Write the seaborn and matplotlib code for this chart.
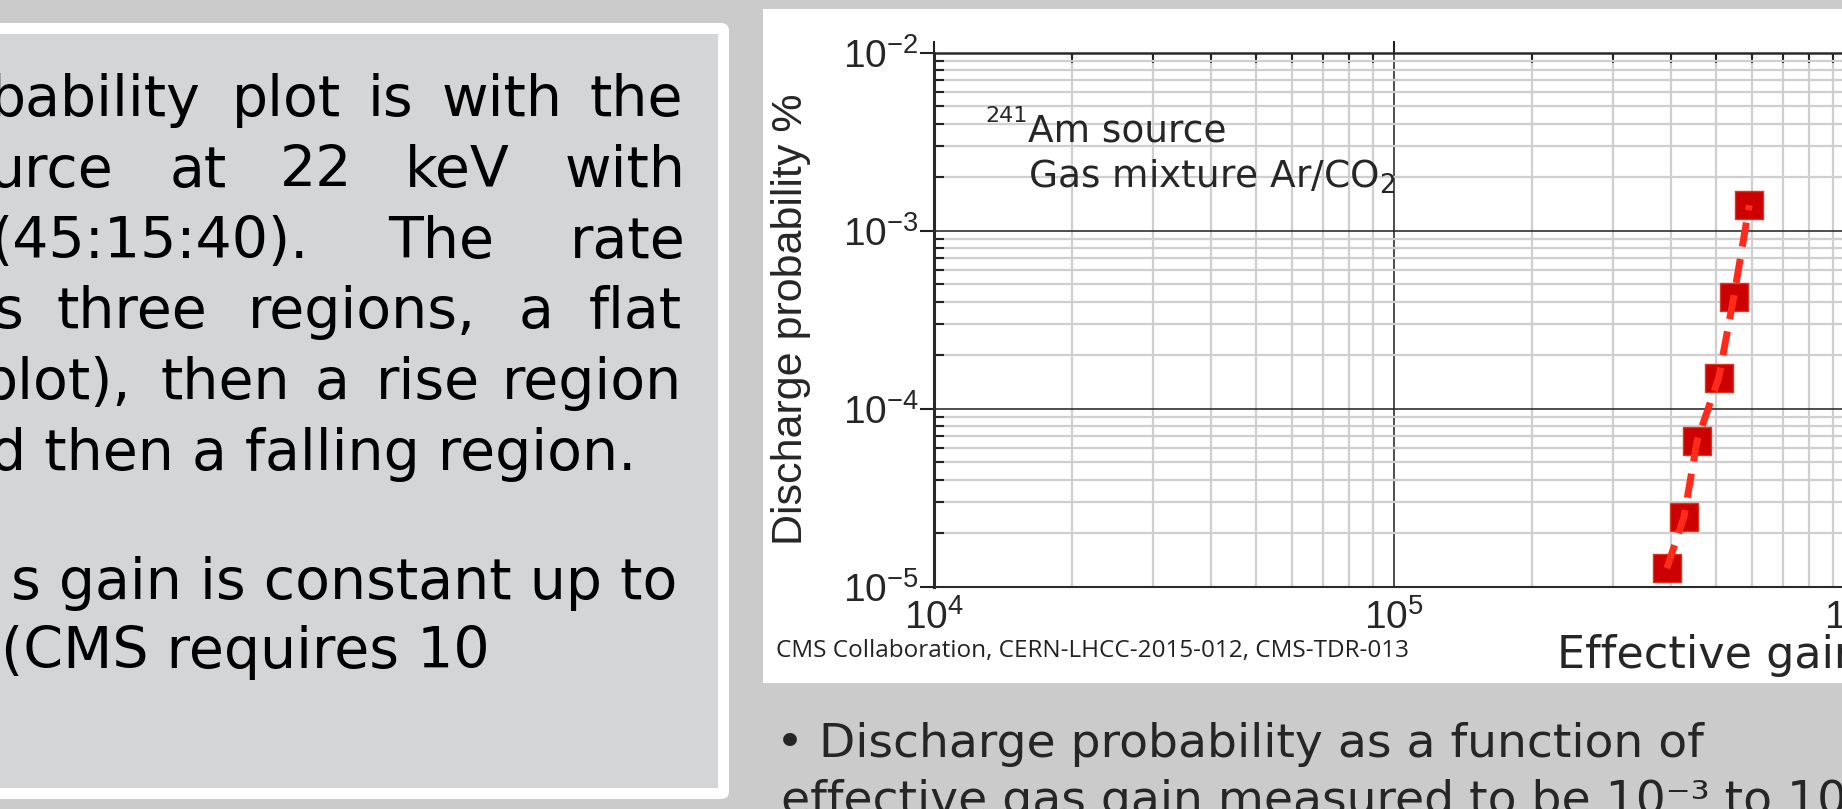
import numpy as np
import matplotlib
matplotlib.use('Agg')
import matplotlib.pyplot as plt
import seaborn as sns
from matplotlib.patches import Rectangle, FancyBboxPatch
from matplotlib.ticker import LogLocator, NullFormatter

# discharge probability vs effective gas gain (241Am source, Ar/CO2)
gain = [3.92e5, 4.27e5, 4.56e5, 5.08e5, 5.48e5, 5.92e5]
prob = [1.27e-5, 2.47e-5, 6.6e-5, 1.49e-4, 4.26e-4, 1.39e-3]

x_range = (1e4, 1e6)
y_range = (1e-5, 1e-2)

sns.set_style('white')
plt.rcParams['font.family'] = ['Liberation Sans', 'DejaVu Sans']
plt.rcParams['mathtext.default'] = 'regular'
plt.rcParams['axes.unicode_minus'] = False

W, H = 1842, 809
fig = plt.figure(figsize=(W / 100, H / 100), dpi=100)
fig.patch.set_facecolor('#cbcbcb')

# slide background, drawn in pixel coordinates
bg = fig.add_axes([0, 0, 1, 1])
bg.set_xlim(0, W)
bg.set_ylim(H, 0)
bg.axis('off')

bg.add_patch(FancyBboxPatch((-30, 23), 759, 776, boxstyle='round,pad=0,rounding_size=8',
                            fc='white', ec='none'))
bg.add_patch(Rectangle((-30, 34), 748, 754, fc='#d4d5d7', ec='none'))
bg.add_patch(Rectangle((763, 9), 1100, 674, fc='white', ec='none'))

# left text panel (justified text, cut at the left edge of the screenshot)
slide_font = dict(family='DejaVu Sans', fontsize=41, color='black')
panel_lines = [
    (116, [(-10, 'bability'), (232, 'plot'), (368, 'is'), (442, 'with'), (589, 'the')]),
    (187, [(-12, 'urce'), (170, 'at'), (280, '22'), (405, 'keV'), (565, 'with')]),
    (258, [(-10, '(45:15:40).'), (388, 'The'), (570, 'rate')]),
    (328, [(-6, 's'), (56, 'three'), (248, 'regions,'), (519, 'a'), (589, 'flat')]),
    (399, [(-18, 'plot),'), (160, 'then'), (315, 'a'), (376, 'rise'), (502, 'region')]),
]
for base, words in panel_lines:
    for x, w in words:
        bg.text(x, base, w, ha='left', va='baseline', **slide_font)
bg.text(636, 470, 'd then a falling region.', ha='right', va='baseline', **slide_font)
bg.text(677, 599, 's gain is constant up to', ha='right', va='baseline', **slide_font)
bg.text(1, 668, '(CMS requires 10', ha='left', va='baseline', **slide_font)

bg.text(776, 656.7, 'CMS Collaboration, CERN-LHCC-2015-012, CMS-TDR-013',
        family='Open Sans', fontsize=17.5, ha='left', va='baseline', color='#222222')

bg.text(776, 756.7, '\u2022 Discharge probability as a function of',
        family='DejaVu Sans', fontsize=34, ha='left', va='baseline')
bg.text(781, 814, 'effective gas gain measured to be 10\u207b\u00b3 to 10',
        family='DejaVu Sans', fontsize=34, ha='left', va='baseline')

# the chart
left, top, bottom, right = 934, 52.7, 586.7, 1854
ax = fig.add_axes([left / W, (H - bottom) / H, (right - left) / W, (bottom - top) / H])
ax.set_facecolor('white')


def axp(px, py):
    return (px - left) / (right - left), (bottom - py) / (bottom - top)


sns.scatterplot(x=gain, y=prob, marker='s', s=380, color='#cc0000',
                edgecolor='#d9381e', linewidth=1, zorder=5, ax=ax)
sns.lineplot(x=gain, y=prob, color='#ff2a1a', lw=5, linestyle=(0, (3.5, 1.8)),
             sort=False, estimator=None, zorder=6, ax=ax)

ax.set_xscale('log')
ax.set_yscale('log')
ax.set_xlim(*x_range)
ax.set_ylim(*y_range)

for axis in (ax.xaxis, ax.yaxis):
    axis.set_major_locator(LogLocator(base=10, numticks=10))
    axis.set_minor_locator(LogLocator(base=10, subs=np.arange(2, 10), numticks=30))
    axis.set_minor_formatter(NullFormatter())

ax.tick_params(axis='both', which='major', labelsize=28, color='#222222', width=1.5)
ax.tick_params(axis='y', which='major', direction='out', length=10, left=True, right=False, pad=1)
ax.tick_params(axis='x', which='major', direction='out', length=9, top=True, bottom=False,
               labeltop=False, labelbottom=True, pad=0)
ax.tick_params(axis='y', which='minor', direction='in', length=7, width=1.5, left=True, right=False,
               color='#222222')
ax.tick_params(axis='x', which='minor', direction='in', length=7, width=1.5, top=True, bottom=False,
               color='#222222')

ax.grid(which='minor', color='#cfcfcf', lw=1.6)
ax.grid(which='major', color='#1e1e1e', lw=1.1)
ax.set_axisbelow(True)

for s in ['left', 'top', 'bottom']:
    ax.spines[s].set_color('#2a2a2a')
ax.spines['left'].set_linewidth(2.2)
ax.spines['top'].set_linewidth(1.8)
ax.spines['bottom'].set_linewidth(1.5)
ax.spines['right'].set_visible(False)

ax.set_ylabel('Discharge probability %', fontsize=31, family='Liberation Sans')
ax.yaxis.set_label_coords(*axp(811, 0))
ax.yaxis.label.set_y(0.5)
ax.set_xlabel('Effective gain', fontsize=32, family='DejaVu Sans', ha='left', va='top')
ax.xaxis.set_label_coords(*axp(1557, 634))

ax.text(*axp(985, 122), '241', transform=ax.transAxes, family='DejaVu Sans',
        fontsize=16, ha='left', va='baseline')
ax.text(*axp(1028, 141.7), 'Am source', transform=ax.transAxes, family='DejaVu Sans',
        fontsize=27, ha='left', va='baseline')
ax.text(*axp(1028, 188), 'Gas mixture Ar/CO$_2$', transform=ax.transAxes, family='DejaVu Sans',
        fontsize=27, ha='left', va='baseline')

fig.savefig('out.png', dpi=100)
